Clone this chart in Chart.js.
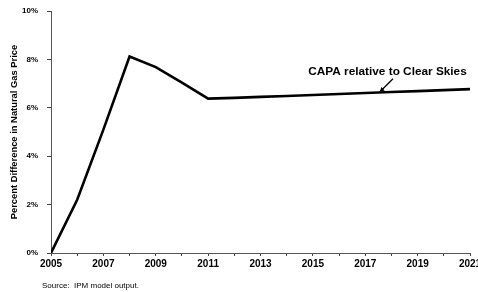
<!DOCTYPE html>
<html>
<head>
<meta charset="utf-8">
<script src="https://cdn.jsdelivr.net/npm/chart.js@4"></script>
<style>
  html, body { margin: 0; padding: 0; background: #fff; }
  #wrap { width: 478px; height: 292px; position: relative; }
</style>
</head>
<body>
<div id="wrap"><canvas id="gasChart"></canvas></div>
<script>
const years = [2005, 2006, 2007, 2008, 2009, 2010, 2011, 2012, 2013, 2014, 2015, 2016, 2017, 2018, 2019, 2020, 2021];
const capaVsClearSkies = [0, 2.2, 5.1, 8.12, 7.68, 7.04, 6.38, 6.41, 6.45, 6.49, 6.53, 6.57, 6.61, 6.65, 6.69, 6.73, 6.77];
const seriesLabel = 'CAPA relative to Clear Skies';
const yAxisTitle = 'Percent Difference in Natural Gas Price';
const sourceNote = 'Source:  IPM model output.';

const fontFamily = '"Liberation Sans", Arial, sans-serif';

// annotation text + arrow, and the source note under the chart
const notesPlugin = {
    id: 'notes',
    afterDraw(chart) {
        const ctx = chart.ctx;
        const x = chart.scales.x;
        const y = chart.scales.y;
        ctx.save();
        ctx.fillStyle = '#000';
        ctx.font = 'bold 11.8px ' + fontFamily;
        ctx.textAlign = 'center';
        ctx.textBaseline = 'middle';
        ctx.fillText(seriesLabel, x.getPixelForValue(2017.85), y.getPixelForValue(7.49));

        // arrow pointing at the line
        const x0 = x.getPixelForValue(2018.06), y0 = y.getPixelForValue(7.2);
        const x1 = x.getPixelForValue(2017.56), y1 = y.getPixelForValue(6.66);
        ctx.strokeStyle = '#000';
        ctx.lineWidth = 1.3;
        ctx.beginPath();
        ctx.moveTo(x0, y0);
        ctx.lineTo(x1, y1);
        ctx.stroke();
        const ang = Math.atan2(y1 - y0, x1 - x0);
        ctx.beginPath();
        ctx.moveTo(x1, y1);
        ctx.lineTo(x1 - 5 * Math.cos(ang - 0.5), y1 - 5 * Math.sin(ang - 0.5));
        ctx.lineTo(x1 - 5 * Math.cos(ang + 0.5), y1 - 5 * Math.sin(ang + 0.5));
        ctx.closePath();
        ctx.fill();

        ctx.font = '8px ' + fontFamily;
        ctx.textAlign = 'left';
        ctx.fillText(sourceNote, 42, 286);
        ctx.restore();
    }
};

const ctx = document.getElementById('gasChart').getContext('2d');
const chart = new Chart(ctx, {
    type: 'line',
    data: {
        datasets: [{
            label: seriesLabel,
            data: years.map((yr, i) => ({ x: yr, y: capaVsClearSkies[i] })),
            borderColor: '#000',
            borderWidth: 2.6,
            pointRadius: 0,
            fill: false,
            tension: 0
        }]
    },
    options: {
        responsive: true,
        maintainAspectRatio: false,
        animation: false,
        layout: { padding: { top: 11, right: 8, left: 0, bottom: 0 } },
        plugins: {
            legend: { display: false },
            tooltip: { enabled: false }
        },
        scales: {
            x: {
                type: 'linear',
                min: 2005,
                max: 2021,
                afterBuildTicks: s => { s.ticks = years.map(v => ({ value: v })); },
                afterFit: s => { s.height = 39; s.paddingRight = 0; s.paddingLeft = 0; },
                grid: { display: true, drawOnChartArea: false, drawTicks: true, tickLength: 3, color: '#444' },
                border: { display: true, color: '#555', width: 1, dash: [2, 1] },
                ticks: {
                    color: '#000',
                    font: { family: fontFamily, size: 10, weight: 'bold' },
                    padding: 2,
                    maxRotation: 0,
                    autoSkip: false,
                    callback: v => (v % 2 === 1 ? String(v) : '')
                }
            },
            y: {
                min: 0,
                max: 10,
                afterFit: s => { s.width = 51; s.paddingTop = 0; },
                grid: { display: true, drawOnChartArea: false, drawTicks: true, tickLength: 4, color: '#444' },
                border: { display: true, color: '#555', width: 1, dash: [2, 1] },
                title: {
                    display: true,
                    text: yAxisTitle,
                    color: '#000',
                    font: { family: fontFamily, size: 9.4, weight: 'bold' },
                    padding: { top: 9, bottom: 0 }
                },
                ticks: {
                    stepSize: 2,
                    color: '#000',
                    font: { family: fontFamily, size: 8, weight: 'bold' },
                    padding: 9,
                    callback: v => v + '%'
                }
            }
        }
    },
    plugins: [notesPlugin]
});
</script>
</body>
</html>
